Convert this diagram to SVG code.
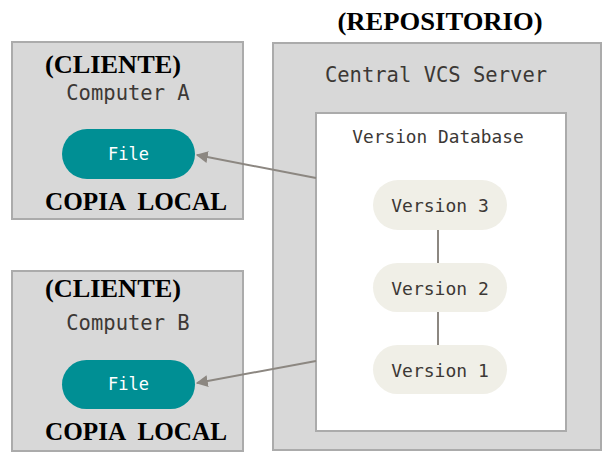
<svg xmlns="http://www.w3.org/2000/svg" width="606" height="459" viewBox="0 0 606 459">
<style>
.box{fill:#d8d8d8;stroke:#ababab;stroke-width:2}
.db{fill:#ffffff;stroke:#ababab;stroke-width:2}
.file{fill:#008f94}
.ver{fill:#f0efe7}
.mono{font-family:"DejaVu Sans Mono","Liberation Mono",monospace;fill:#3c3835}
.ftxt{font-family:"DejaVu Sans Mono","Liberation Mono",monospace;fill:#ffffff;font-size:17px}
.lbl{font-family:"Liberation Serif","Times New Roman",serif;font-weight:bold;fill:#000000;font-size:25px}
.edge{stroke:#8c8781;stroke-width:2;fill:none}
.link{stroke:#8c8781;stroke-width:2;fill:none}
</style>
<defs>
<marker id="arr" viewBox="0 0 10 10" refX="9" refY="5" markerWidth="6" markerHeight="6" markerUnits="strokeWidth" orient="auto">
<path d="M0,0 L10,5 L0,10 z" fill="#8c8781"/>
</marker>
</defs>
<rect width="606" height="459" fill="#ffffff"/>
<text class="lbl" x="440" y="30" text-anchor="middle" textLength="205" lengthAdjust="spacingAndGlyphs">(REPOSITORIO)</text>
<g id="server">
<rect class="box" x="273" y="43" width="328" height="407"/>
<text class="mono" x="436" y="82" font-size="20.5" text-anchor="middle">Central VCS Server</text>
</g>
<g id="database">
<rect class="db" x="316" y="113" width="250" height="318"/>
<text class="mono" x="438" y="143" font-size="17.8" text-anchor="middle">Version Database</text>
</g>
<g id="computerA">
<rect class="box" x="12" y="42" width="231" height="177"/>
<text class="lbl" x="113" y="73" text-anchor="middle" textLength="136" lengthAdjust="spacingAndGlyphs">(CLIENTE)</text>
<text class="mono" x="128" y="100" font-size="20.5" text-anchor="middle">Computer A</text>
<text class="lbl" x="136" y="210" text-anchor="middle" textLength="182" lengthAdjust="spacingAndGlyphs" xml:space="preserve">COPIA  LOCAL</text>
</g>
<g id="fileA">
<rect class="file" x="62" y="129" width="133" height="50" rx="25"/>
<text class="ftxt" x="128.5" y="160" text-anchor="middle">File</text>
</g>
<g id="computerB">
<rect class="box" x="12" y="271" width="231" height="180"/>
<text class="lbl" x="113" y="297" text-anchor="middle" textLength="136" lengthAdjust="spacingAndGlyphs">(CLIENTE)</text>
<text class="mono" x="128" y="330" font-size="20.5" text-anchor="middle">Computer B</text>
<text class="lbl" x="136" y="440" text-anchor="middle" textLength="182" lengthAdjust="spacingAndGlyphs" xml:space="preserve">COPIA  LOCAL</text>
</g>
<g id="fileB">
<rect class="file" x="62" y="360" width="133" height="49" rx="24.5"/>
<text class="ftxt" x="128.5" y="390" text-anchor="middle">File</text>
</g>
<g id="connectors">
<line class="link" x1="438" y1="230" x2="438" y2="263"/>
<line class="link" x1="438" y1="312" x2="438" y2="345"/>
<line class="edge" x1="316" y1="178" x2="197" y2="155" marker-end="url(#arr)"/>
<line class="edge" x1="316" y1="361" x2="197" y2="383" marker-end="url(#arr)"/>
</g>
<g id="v3">
<rect class="ver" x="373" y="180" width="134" height="50" rx="25"/>
<text class="mono" x="440" y="212" font-size="18" text-anchor="middle">Version 3</text>
</g>
<g id="v2">
<rect class="ver" x="373" y="263" width="134" height="49" rx="24.5"/>
<text class="mono" x="440" y="295" font-size="18" text-anchor="middle">Version 2</text>
</g>
<g id="v1">
<rect class="ver" x="373" y="345" width="134" height="49" rx="24.5"/>
<text class="mono" x="440" y="377" font-size="18" text-anchor="middle">Version 1</text>
</g>
</svg>
